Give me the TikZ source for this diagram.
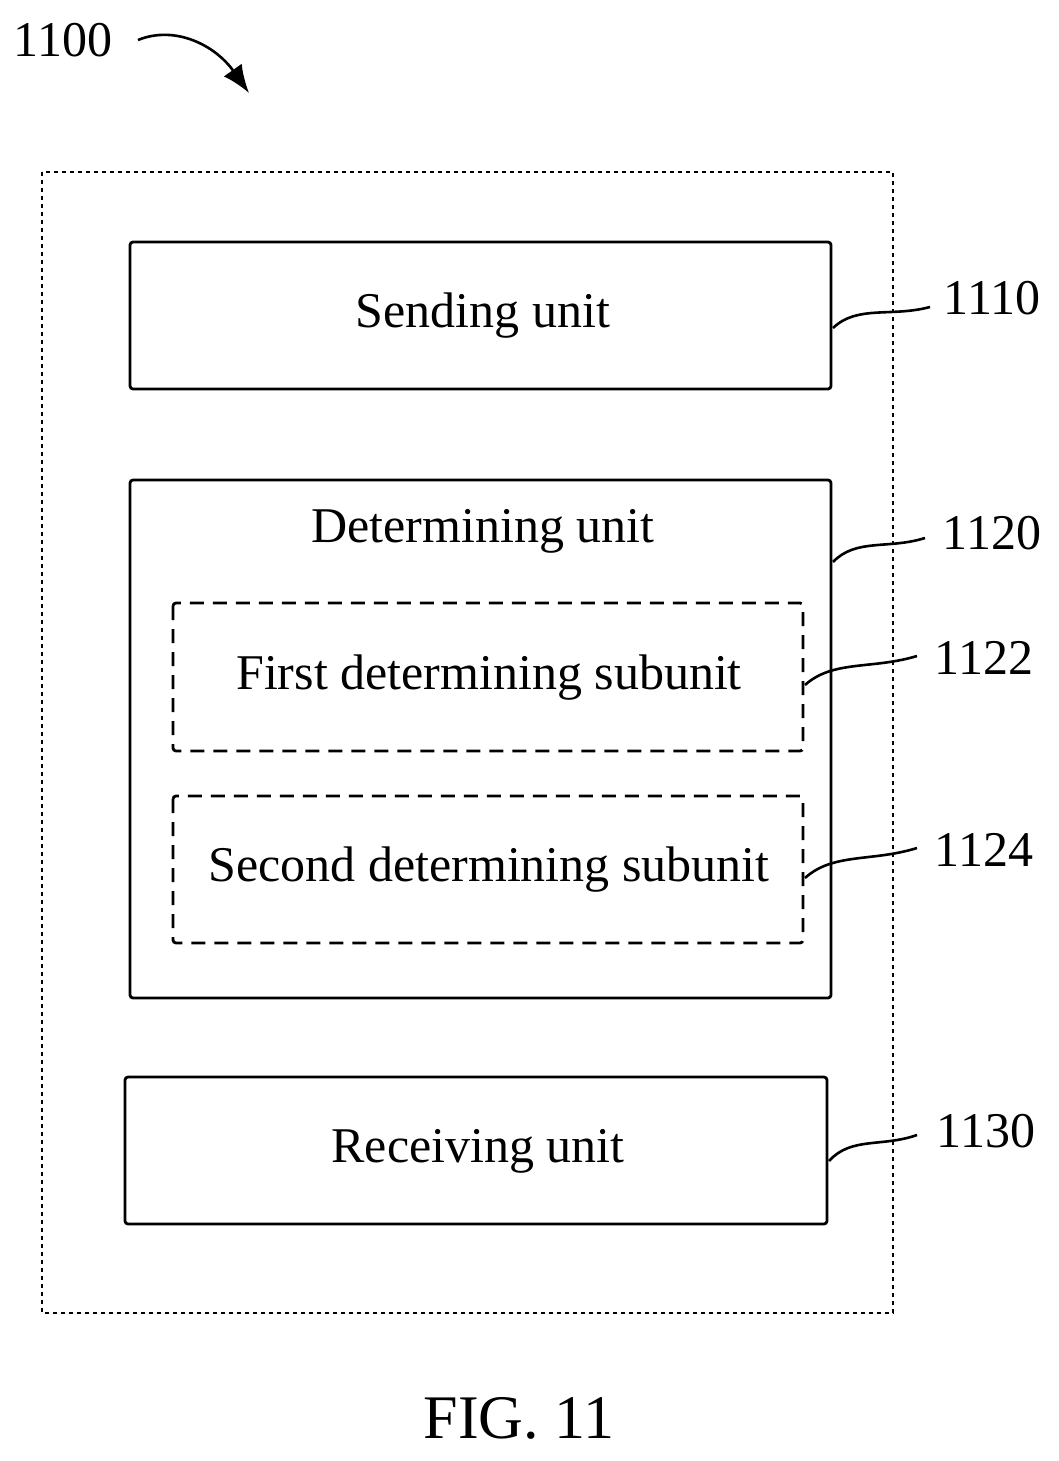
\documentclass[tikz,border=0pt]{standalone}
\usepackage{fontspec}
\setmainfont{Liberation Serif}
\usetikzlibrary{calc,arrows.meta}
\begin{document}
\begin{tikzpicture}[x=1pt,y=-1pt,
 box/.style={draw,line width=2.8pt,rounded corners=3pt},
 dbox/.style={draw,line width=2.8pt,dash pattern=on 14pt off 9pt,rounded corners=3pt},
 lead/.style={line width=2.6pt},
 txt/.style={font=\fontsize{50}{56}\selectfont,inner sep=0pt}]
\useasboundingbox (0,0) rectangle (1058,1461);
\draw[line width=2.2pt,dash pattern=on 4pt off 4pt] (42,172) rectangle (893,1313);
\draw[box] (130,242) rectangle (831,389);
\draw[box] (130,480) rectangle (831,998);
\draw[dbox] (173,603) rectangle (803,751);
\draw[dbox] (173,796) rectangle (803,943);
\draw[box] (125,1077) rectangle (827,1224);
\node[txt] (s) at (483,316) {Sending unit};
\node[txt] (d) at (483,531) {Determining unit};
\node[txt] (f) at (489,678) {First determining subunit};
\node[txt] (g) at (489,870) {Second determining subunit};
\node[txt] (r) at (478,1151) {Receiving unit};
\node[txt] (l1110) at (992,298) {1110};
\node[txt] (l1120) at (992,533) {1120};
\node[txt] (l1122) at (984,658) {1122};
\node[txt] (l1124) at (984,850) {1124};
\node[txt] (l1130) at (986,1131) {1130};
\node[txt] (l1100) at (63,40) {1100};
\node[txt,font=\fontsize{62}{68}\selectfont] (fig) at (519,1418) {FIG. 11};
\coordinate (a1) at (833,328); \coordinate (b1) at (930,307);
\coordinate (a2) at (833,562); \coordinate (b2) at (925,538);
\coordinate (a3) at (805,685); \coordinate (b3) at (917,656);
\coordinate (a4) at (805,878); \coordinate (b4) at (917,848);
\coordinate (a5) at (829,1161); \coordinate (b5) at (917,1135);
\foreach \i in {1,...,5}{\draw[lead] (a\i) .. controls ($(a\i)!0.25!(b\i)+(0,-18)$) and ($(a\i)!0.6!(b\i)+(0,2)$) .. (b\i);}
\coordinate (c0) at (138,40); \coordinate (c1) at (249,93);
\draw[line width=2.6pt,-{Latex[length=28pt,width=22pt]}] (c0) .. controls (175,25) and (215,45) .. (c1);
\end{tikzpicture}
\end{document}
